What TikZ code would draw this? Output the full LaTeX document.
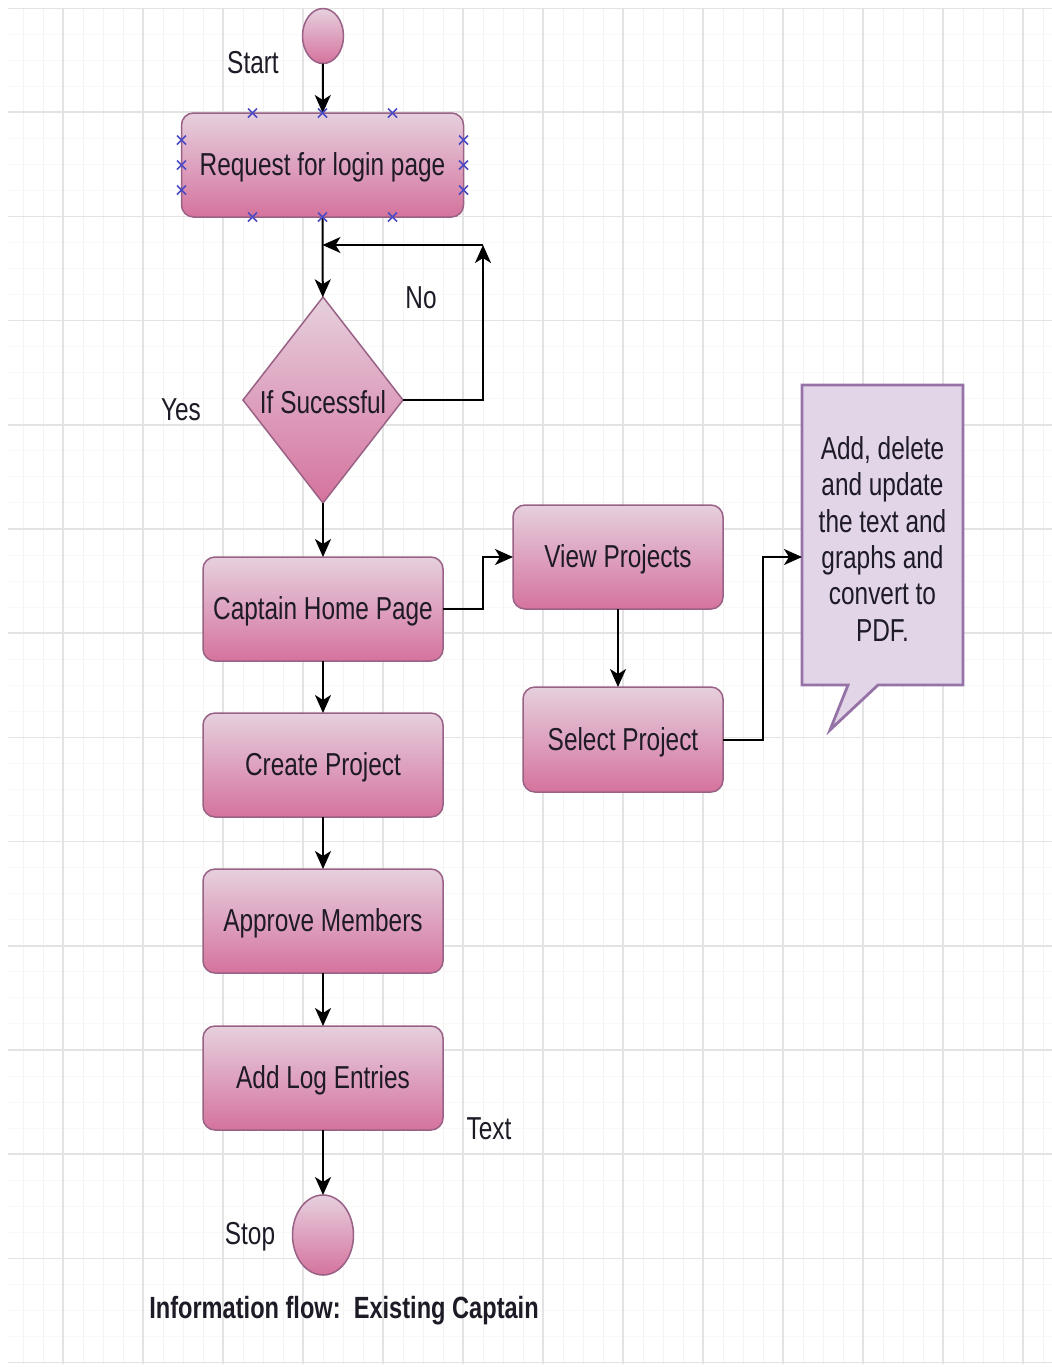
\documentclass[tikz,border=0pt]{standalone}
\usepackage{fontspec}
\usepackage{graphicx}
\setmainfont{Liberation Sans}
\usetikzlibrary{shapes.geometric,arrows.meta,calc}

\definecolor{pinkTop}{HTML}{E6D0DE}
\definecolor{pinkBot}{HTML}{D5739D}
\definecolor{pinkLine}{HTML}{996185}
\definecolor{noteFill}{HTML}{E1D5E7}
\definecolor{noteLine}{HTML}{9673A6}
\definecolor{gridMajor}{HTML}{E3E3E3}
\definecolor{gridMinorV}{HTML}{F3F3F3}
\definecolor{gridMinorH}{HTML}{F8F8F8}
\definecolor{txt}{HTML}{1E1A26}
\definecolor{handle}{HTML}{4A4AC4}

% text is set slightly tall and narrow, and sits a little low in its box
\newcommand\tallstretch[2][1.3pt]{\raisebox{-#1}[\height][\depth]{\scalebox{1}[1.3]{#2}}}

\tikzset{
  every node/.style={inner sep=0pt, outer sep=0pt},
  lbl/.style={font=\fontsize{12.2}{14}\selectfont, text=txt},
  shaded/.style={draw=pinkLine, line width=0.75pt, top color=pinkTop, bottom color=pinkBot},
  stepbox/.style={rectangle, rounded corners=6pt, shaded, lbl},
  term/.style={ellipse, shaded},
  decision/.style={diamond, shaded, minimum width=80pt, minimum height=103pt},
  arr/.style={draw=black, line width=1pt, -{Stealth[length=9pt,width=8pt,inset=2.5pt]}},
  handlemark/.style={draw=handle, line width=0.8pt},
  handlex/.pic={\draw[handlemark] (-4.5,-4.5) -- (4.5,4.5) (-4.5,4.5) -- (4.5,-4.5);},
}

\begin{document}
\begin{tikzpicture}[x=0.5pt, y=-0.5pt]
  % page and grid
  \fill[white] (0,0) rectangle (1052,1367);
  \useasboundingbox (0,0) rectangle (1052,1367);
  \begin{scope}
    \clip (8,8) rectangle (1052,1364);
    \foreach \x in {3,23,...,1043} \draw[gridMinorV, line width=0.5pt] (\x,8) -- (\x,1364);
    \foreach \k in {0,...,52} \draw[gridMinorH, line width=0.5pt] (8,{8+26.05*\k}) -- (1052,{8+26.05*\k});
    \foreach \x in {63,143,...,1023} \draw[gridMajor, line width=0.75pt] (\x,8) -- (\x,1364);
    \foreach \k in {0,...,13} \draw[gridMajor, line width=0.75pt] (8,{8+104.2*\k}) -- (1052,{8+104.2*\k});
  \end{scope}

  % main column
  \node[term, minimum width=20.5pt, minimum height=27.5pt] (start) at (323,36) {};
  \node[stepbox, minimum width=141pt, minimum height=52pt] (req) at (322.5,165) {\tallstretch{Request for login page}};
  \node[decision, label={[lbl]center:\tallstretch{If Sucessful}}] (dec) at (323,400) {};
  \node[stepbox, minimum width=120pt, minimum height=52pt] (cap) at (323,609) {\tallstretch{Captain Home Page}};
  \node[stepbox, minimum width=120pt, minimum height=52pt] (create) at (323,765) {\tallstretch{Create Project}};
  \node[stepbox, minimum width=120pt, minimum height=52pt] (approve) at (323,921) {\tallstretch{Approve Members}};
  \node[stepbox, minimum width=120pt, minimum height=52pt] (logs) at (323,1078) {\tallstretch{Add Log Entries}};
  \node[term, minimum width=30.5pt, minimum height=40pt] (stop) at (323,1235) {};

  % project branch
  \node[stepbox, minimum width=105pt, minimum height=52pt] (view) at (618,557) {\tallstretch{View Projects}};
  \node[stepbox, minimum width=100pt, minimum height=52.5pt] (sel) at (623,739.5) {\tallstretch{Select Project}};

  % speech-bubble note
  \draw[fill=noteFill, draw=noteLine, line width=1.4pt, line join=miter]
    (802,385) -- (963,385) -- (963,685) -- (878,685) -- (830,730) -- (848,685) -- (802,685) -- cycle;
  \node[lbl, minimum width=80.5pt, minimum height=150pt] (note) at (882.5,535)
    {\tallstretch[4pt]{\begin{tabular}{@{}c@{}}Add, delete\\and update\\the text and\\graphs and\\convert to\\PDF.\end{tabular}}};

  % free labels
  \node[lbl] (startlbl) at (253,62) {\tallstretch[0.5pt]{Start}};
  \node[lbl] (nolbl) at (421,297) {\tallstretch[0.5pt]{No}};
  \node[lbl] (yeslbl) at (181,409) {\tallstretch[0.5pt]{Yes}};
  \node[lbl] (stoplbl) at (250,1233) {\tallstretch[1.8pt]{Stop}};
  \node[lbl] (textlbl) at (489,1128) {\tallstretch[0.5pt]{Text}};
  \node[lbl, font=\fontsize{11.8}{14}\selectfont\bfseries] (title) at (344,1308) {\tallstretch{Information flow:\ \ Existing Captain}};

  % connectors
  \coordinate (nocorner) at (483,245);
  \draw[arr] (start) -- (req);
  \draw[arr] (req) -- (dec);
  \draw[arr] (dec.east) -| (nocorner);
  \draw[arr] (nocorner) -- (req.south |- nocorner);
  \draw[arr] (dec) -- (cap);
  \draw[arr] (cap) -- (create);
  \draw[arr] (create) -- (approve);
  \draw[arr] (approve) -- (logs);
  \draw[arr] (logs) -- (stop);
  \draw[arr] (cap.east) -- ++(40,0) |- (view.west);
  \draw[arr] (view) -- (view.south |- sel.north);
  \draw[arr] (sel.east) -- ++(40,0) |- (note.west |- view.east);

  % connection handles around the selected box
  \foreach \d in {-70,0,70} {
    \pic at ($(req.north)+(\d,0)$) {handlex};
    \pic at ($(req.south)+(\d,0)$) {handlex};
  }
  \foreach \d in {-25,0,25} {
    \pic at ($(req.west)+(0,\d)$) {handlex};
    \pic at ($(req.east)+(0,\d)$) {handlex};
  }
\end{tikzpicture}
\end{document}
